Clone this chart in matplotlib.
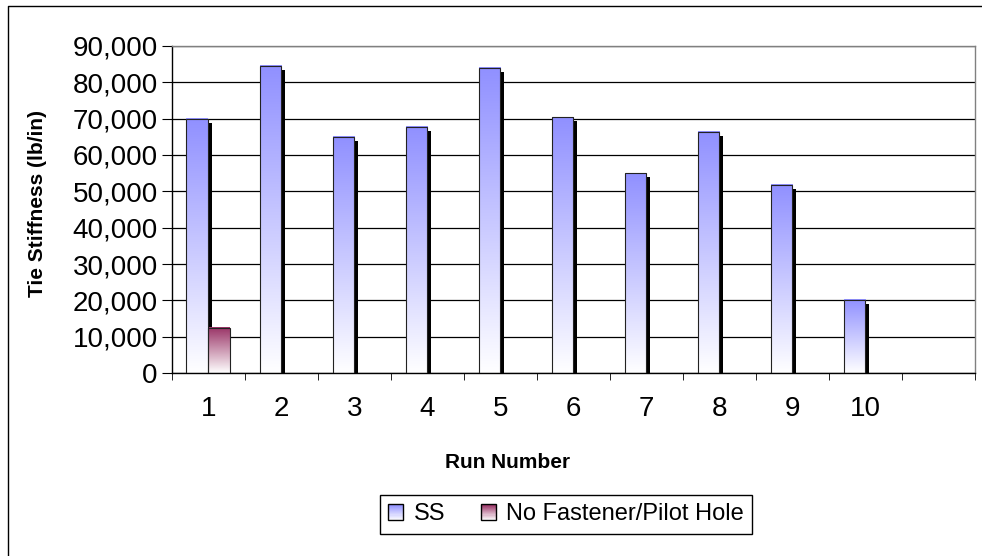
import matplotlib
matplotlib.use('Agg')
import matplotlib.pyplot as plt
import numpy as np
from matplotlib import transforms
from matplotlib.colors import to_rgb
from matplotlib.patches import Rectangle
from matplotlib.lines import Line2D
from matplotlib.legend_handler import HandlerBase

# Data
runs = ['1', '2', '3', '4', '5', '6', '7', '8', '9', '10', '']
ss_stiffness = [69800, 84400, 65000, 67700, 83900, 70300, 54900, 66300, 51800, 20100]
pilot_stiffness = [12400, np.nan, np.nan, np.nan, np.nan, np.nan, np.nan, np.nan, np.nan, np.nan]
series_names = ['SS', 'No Fastener/Pilot Hole']
series_colors = ['#9090FF', '#993366']
y_ticks = [0, 10000, 20000, 30000, 40000, 50000, 60000, 70000, 80000, 90000]

plt.rcParams['font.family'] = ['Liberation Sans', 'DejaVu Sans']

fig = plt.figure(figsize=(9.82, 5.56), dpi=100)
ax = fig.add_axes([0.1748, 0.3286, 0.8181, 0.5892])

bar_w = 0.297
slots = np.arange(len(runs))
shadow_tr = transforms.offset_copy(ax.transData, fig=fig, x=4, y=-4, units='dots')


def ramp_image(color):
    top = np.array(to_rgb(color))
    f = np.linspace(0, 1, 256)[:, None, None]
    return (1 - f) * np.ones(3) + f * top


def gradient_bars(xpos, values, color, shadow):
    values = np.asarray(values, dtype=float)
    xpos = np.asarray(xpos, dtype=float)
    ok = np.isfinite(values)
    bars = ax.bar(xpos[ok], values[ok], bar_w, facecolor='none',
                  edgecolor='#222222', linewidth=0.8, zorder=3)
    img = ramp_image(color)
    for rect in bars:
        x0, w, h = rect.get_x(), rect.get_width(), rect.get_height()
        ax.imshow(img, extent=(x0, x0 + w, 0, h), origin='lower',
                  aspect='auto', interpolation='bilinear', zorder=2)
        if shadow:
            ax.add_patch(Rectangle((x0, 0), w, h, transform=shadow_tr,
                                   facecolor='black', edgecolor='none', zorder=1.5))
    return bars


n = len(ss_stiffness)
gradient_bars(slots[:n] - bar_w / 2, ss_stiffness, series_colors[0], True)
gradient_bars(slots[:n] + bar_w / 2, pilot_stiffness, series_colors[1], False)

ax.set_xlim(-0.5, len(runs) - 0.5)
ax.set_ylim(0, 90000)

# category labels in the middle, tick marks on slot edges
ax.set_xticks(slots, runs)
ax.set_xticks(np.append(slots - 0.5, slots[-1] + 0.5), minor=True)
ax.tick_params(axis='x', which='major', length=0, pad=16, labelsize=20)
ax.tick_params(axis='x', which='minor', length=5, direction='out', color='black')

ax.set_yticks(y_ticks, [f'{v:,}' for v in y_ticks])
ax.tick_params(axis='y', length=7, pad=3, labelsize=20, direction='out')

ax.yaxis.grid(True, color='black', linewidth=0.9)
ax.set_axisbelow(True)
for side in ['left', 'bottom']:
    ax.spines[side].set_color('black')
    ax.spines[side].set_linewidth(1)
for side in ['top', 'right']:
    ax.spines[side].set_color('#808080')
    ax.spines[side].set_linewidth(1)

fig.text(508 / 982, 1 - 462 / 556, 'Run Number', ha='center', va='center',
         fontsize=15, fontweight='bold')
fig.text(38 / 982, 1 - 204 / 556, 'Tie Stiffness (lb/in)', ha='center', va='center',
         rotation=90, fontsize=15, fontweight='bold')


class GradientHandler(HandlerBase):
    def __init__(self, color):
        super().__init__()
        self.color = color

    def create_artists(self, legend, orig_handle, xdescent, ydescent,
                       width, height, fontsize, trans):
        top = np.array(to_rgb(self.color))
        strips = 14
        arts = []
        for k in range(strips):
            f = (k + 0.5) / strips
            c = (1 - f) * np.ones(3) + f * top
            arts.append(Rectangle((-xdescent, -ydescent + height * k / strips),
                                  width, height / strips, facecolor=c,
                                  edgecolor='none', transform=trans))
        arts.append(Rectangle((-xdescent, -ydescent), width, height, facecolor='none',
                              edgecolor='black', linewidth=1, transform=trans))
        return arts


proxies = [Rectangle((0, 0), 1, 1) for _ in series_names]
handler_map = {p: GradientHandler(c) for p, c in zip(proxies, series_colors)}
leg = fig.legend(proxies, series_names, handler_map=handler_map, ncol=2,
                 loc='center', bbox_to_anchor=(566 / 982, 1 - 514.5 / 556),
                 fontsize=17, handlelength=0.64, handleheight=0.64,
                 handletextpad=0.45, columnspacing=1.5, borderpad=0.35,
                 fancybox=False, framealpha=1, edgecolor='black')
leg.get_frame().set_linewidth(1)

# outer chart border: only the left and top edges fall inside the picture
border_x = 7.5 / 982
border_y = 1 - 5.5 / 556
fig.add_artist(Line2D([border_x, border_x, 1.2], [-0.2, border_y, border_y],
                      transform=fig.transFigure, color='black', linewidth=1))

fig.savefig('out.png', dpi=100)
